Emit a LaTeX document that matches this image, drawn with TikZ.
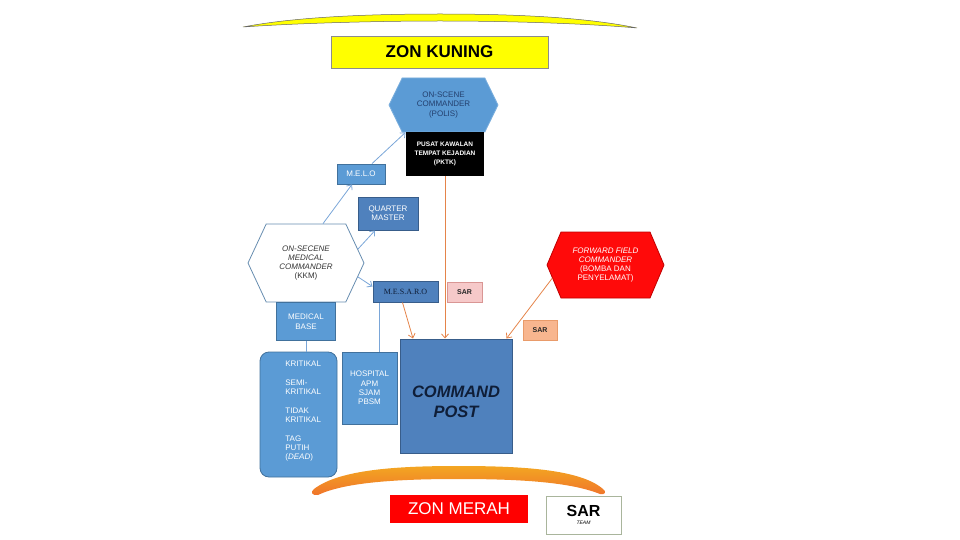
\documentclass[tikz,border=0pt]{standalone}
\usepackage{fontspec}
\setmainfont{Liberation Sans}
\newfontfamily\seriffont{Liberation Serif}
\usetikzlibrary{positioning,shapes.symbols,arrows.meta}
\definecolor{zkuning}{HTML}{FFFF00}
\definecolor{lblue}{HTML}{5B9BD5}
\definecolor{lbluedraw}{HTML}{41719C}
\definecolor{mblue}{HTML}{4F81BD}
\definecolor{mbluedraw}{HTML}{385D8A}
\definecolor{hexink}{HTML}{24406E}
\definecolor{navyink}{HTML}{0F1E38}
\definecolor{linkblue}{HTML}{7AA6D8}
\definecolor{linkorange}{HTML}{E5844A}
\definecolor{sarpink}{HTML}{F6C9C9}
\definecolor{sarpinkdraw}{HTML}{D99694}
\definecolor{sarsalmon}{HTML}{F8B68F}
\definecolor{sarsalmondraw}{HTML}{E99B6A}
\definecolor{ffred}{HTML}{FF0A0A}
\definecolor{ffreddraw}{HTML}{C00000}
\definecolor{arcorange}{HTML}{EE8030}
\definecolor{teamdraw}{HTML}{A9B59C}

\begin{document}
\begin{tikzpicture}[x=1pt, y=-1pt, line width=0.8pt,
  every node/.style={font=\fontsize{8}{9.3}\selectfont, align=center, inner sep=1pt},
  lbox/.style={draw=lbluedraw, fill=lblue, text=white},
  mbox/.style={draw=mbluedraw, fill=mblue, line width=1pt},
  hexbox/.style={signal, signal to=east and west},
  sarbox/.style={font=\fontsize{7}{8}\selectfont\bfseries, text=black!85, minimum width=35, minimum height=20},
  bluelink/.style={draw=linkblue, -{Straight Barb[length=4pt, width=7pt]}},
  orangelink/.style={draw=linkorange, -{Straight Barb[length=4pt, width=7pt]}},
  plainlink/.style={draw=linkblue}]
\useasboundingbox (0,0) rectangle (960,540);

% zone arcs
\fill[zkuning, draw=black!60, line width=0.5pt] (243,27) .. controls (300,16) and (380,14) .. (440,14)
  .. controls (500,14) and (580,16) .. (637,28)
  .. controls (580,23) and (500,21) .. (440,21)
  .. controls (380,21) and (300,23) .. (243,27) -- cycle;
\shade[top color=arcorange!70!yellow, bottom color=arcorange!90!red, draw=none] (314,489) .. controls (340,469) and (400,466) .. (458,466)
  .. controls (520,466) and (580,469) .. (603,489)
  .. controls (607,492) and (605,495) .. (600,494)
  .. controls (570,482) and (520,479) .. (458,479)
  .. controls (400,479) and (345,482) .. (318,495)
  .. controls (312,496) and (310,492) .. (314,489) -- cycle;

% zones
\node[fill=zkuning, draw=black!45, line width=0.5pt, minimum width=217, minimum height=32, font=\fontsize{17}{17}\selectfont\bfseries] (kuning) at (439.5,52) {ZON KUNING};
\node[fill=red, minimum width=138, minimum height=28, text=white, font=\fontsize{17}{17}\selectfont] (merah) at (459,509) {ZON MERAH};
\node[draw=teamdraw, line width=0.6pt, minimum width=75, minimum height=38] (sarteam) at (583.5,515) {{\fontsize{16}{16}\selectfont\bfseries SAR}\\[-1pt]{\fontsize{5}{6}\selectfont\itshape TEAM}};

% commanders
\node[hexbox, fill=lblue, draw=lblue!80!white, text=hexink, minimum width=109, minimum height=54, signal pointer angle=128] (polis) at (443.5,105) {ON-SCENE\\COMMANDER\\(POLIS)};
\node[fill=black, text=white, minimum width=78, minimum height=44, font=\fontsize{6.5}{9}\selectfont\bfseries] (pktk) at (445,154) {PUSAT KAWALAN\\TEMPAT KEJADIAN\\(PKTK)};
\node[hexbox, fill=white, draw=lbluedraw!80, text=black!80, minimum width=116, minimum height=78, signal pointer angle=130] (medcmd) at (306,263) {\textit{ON-SECENE}\\\textit{MEDICAL}\\\textit{COMMANDER}\\(KKM)};
\node[hexbox, fill=ffred, draw=ffreddraw, text=white, minimum width=117, minimum height=66, signal pointer angle=134] (ffc) at (605.5,265) {\textit{FORWARD FIELD}\\\textit{COMMANDER}\\(BOMBA DAN\\PENYELAMAT)};

% medical team
\node[lbox, minimum width=48, minimum height=20] (melo) at (361,174) {M.E.L.O};
\node[mbox, text=white, minimum width=60, minimum height=33] (qm) at (388,213.5) {QUARTER\\MASTER};
\node[mbox, text=navyink, minimum width=65, minimum height=21, font=\fontsize{8}{9}\selectfont\seriffont] (mesaro) at (405.5,291.5) {M.E.S.A.R.O};
\node[lbox, minimum width=59, minimum height=38, below=0pt of medcmd] (mbase) {MEDICAL\\BASE};
\node[lbox, rounded corners=9, minimum width=77, minimum height=125] (krit) at (298.5,414.5) {};
\node[anchor=north west, text=white, align=left] (kritlist) at (284,360) {KRITIKAL\\[9.3pt]SEMI-\\KRITIKAL\\[9.3pt]TIDAK\\KRITIKAL\\[9.3pt]TAG\\PUTIH\\(\textit{DEAD})};
\node[lbox, minimum width=55, minimum height=72] (hosp) at (369.5,388) {HOSPITAL\\APM\\SJAM\\PBSM};

% rescue
\node[sarbox, fill=sarpink, draw=sarpinkdraw] (sarone) at (464.5,292) {SAR};
\node[sarbox, fill=sarsalmon, draw=sarsalmondraw, minimum width=34] (sartwo) at (540,330) {SAR};
\node[mbox, minimum width=112, minimum height=114] (cp) at (456,396) {};
\node[text=navyink, font=\fontsize{16.5}{20}\selectfont\bfseries\itshape] (cplabel) at ([yshift=-6]cp.center) {COMMAND\\POST};

% links
\draw[bluelink] ([xshift=17]medcmd.north) -- ([xshift=-9]melo.south);
\draw[bluelink] ([xshift=11]melo.north) -- ([xshift=-38]polis.south);
\draw[bluelink] (medcmd.15) -- ([xshift=-13]qm.south);
\draw[bluelink] (medcmd.-15) -- ([yshift=5]mesaro.west);
\draw[plainlink] (mbase.south) -- (mbase.south |- krit.north);
\draw[plainlink] ([xshift=10]hosp.north) -- ([xshift=10]hosp.north |- mesaro.south);
\draw[orangelink] ([xshift=-3]mesaro.south) -- ([xshift=-43]cp.north);
\draw[orangelink] (pktk.south) -- (pktk.south |- cp.north);
\draw[orangelink] (ffc.194) -- ([xshift=-6]cp.north east);
\end{tikzpicture}
\end{document}
